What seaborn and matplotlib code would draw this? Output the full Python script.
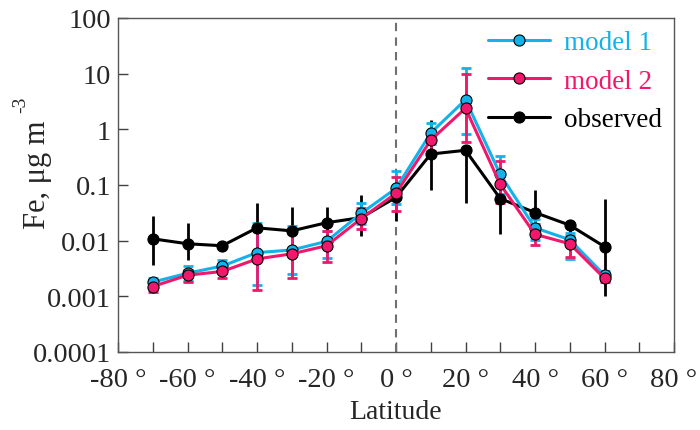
import numpy as np
import pandas as pd
import matplotlib
matplotlib.use("Agg")
import matplotlib.pyplot as plt
import seaborn as sns

# latitude of each band (degrees)
lat = [-70, -60, -50, -40, -30, -20, -10, 0, 10, 20, 30, 40, 50, 60]

# observed Fe, with lower / upper ends of the error bars
obs = [0.0108, 0.0088, 0.0081, 0.017, 0.015, 0.021, 0.026, 0.060, 0.36, 0.42, 0.057, 0.032, 0.019, 0.0078]
obs_lo = [0.0037, 0.0045, 0.0075, 0.0063, 0.0055, 0.011, 0.012, 0.023, 0.083, 0.048, 0.013, 0.017, 0.013, 0.001]
obs_hi = [0.028, 0.021, 0.0088, 0.047, 0.040, 0.040, 0.065, 0.10, 1.5, 0.5, 0.08, 0.08, 0.024, 0.057]

# model 1
m1 = [0.0018, 0.0026, 0.0035, 0.0061, 0.0068, 0.0097, 0.031, 0.087, 0.86, 3.4, 0.155, 0.017, 0.0104, 0.0024]
m1_lo = [0.0015, 0.0019, 0.0027, 0.0016, 0.0025, 0.0049, 0.020, 0.045, 0.55, 0.83, 0.07, 0.0104, 0.0047, 0.0020]
m1_hi = [0.0021, 0.0035, 0.0045, 0.021, 0.018, 0.015, 0.047, 0.18, 1.3, 12.9, 0.33, 0.025, 0.014, 0.0028]

# model 2
m2 = [0.0015, 0.0024, 0.0028, 0.0047, 0.0058, 0.0081, 0.025, 0.071, 0.64, 2.4, 0.103, 0.013, 0.0088, 0.0021]
m2_lo = [0.0012, 0.0018, 0.0021, 0.0013, 0.0021, 0.0042, 0.016, 0.034, 0.40, 0.59, 0.047, 0.0085, 0.005, 0.0018]
m2_hi = [0.0018, 0.0030, 0.0036, 0.017, 0.014, 0.015, 0.038, 0.14, 0.9, 9.9, 0.27, 0.02, 0.012, 0.0025]

c1 = "#12b2ea"
c2 = "#f0186c"
cobs = "black"

sns.set_style("ticks")
plt.rcParams['font.family'] = ['Liberation Serif', 'DejaVu Serif']

W, H = 700, 431
fig, ax = plt.subplots(figsize=(7, 4.31), dpi=100)
fig.subplots_adjust(left=118 / W, right=674 / W, bottom=1 - 353 / H, top=1 - 19 / H)

ax.axvline(0, color="#707070", lw=1.5, ls=(0, (4, 3)), zorder=1)

series = [
    ("observed", obs, obs_lo, obs_hi, cobs, 0),
    ("model 1", m1, m1_lo, m1_hi, c1, 3.5),
    ("model 2", m2, m2_lo, m2_hi, c2, 3.5),
]

for name, y, lo, hi, col, cap in series:
    y = np.array(y)
    yerr = [y - np.array(lo), np.array(hi) - y]
    ax.errorbar(lat, y, yerr=yerr, fmt="none", ecolor=col, elinewidth=2,
                capsize=cap, capthick=2, zorder=2)
    df = pd.DataFrame({"lat": lat, "val": y})
    sns.lineplot(data=df, x="lat", y="val", ax=ax, color=col, lw=2.2,
                 marker="o", markersize=8, markeredgecolor="black",
                 markeredgewidth=0.8, label=name, zorder=3)

ax.set_yscale("log")
ax.set_ylim(1e-4, 100)
ax.set_xlim(-80, 80)

yt = [1e-4, 1e-3, 1e-2, 1e-1, 1, 10, 100]
ax.set_yticks(yt)
ax.set_yticklabels(["0.0001", "0.001", "0.01", "0.1", "1", "10", "100"])
ax.yaxis.set_minor_locator(matplotlib.ticker.NullLocator())
ax.set_xticks(range(-80, 81, 20))
ax.set_xticklabels([f"{v} °" for v in range(-80, 81, 20)])
ax.set_xticks(range(-70, 80, 20), minor=True)

ax.tick_params(axis="both", which="both", direction="in", labelsize=20.5,
               color="#404040", width=1)
ax.tick_params(axis="both", which="major", length=7)
ax.tick_params(axis="y", which="major", pad=5)
ax.tick_params(axis="x", which="major", pad=11)
ax.tick_params(axis="x", which="minor", length=7)

for s in ax.spines.values():
    s.set_visible(True)
    s.set_color("#555555")
    s.set_linewidth(1)

ax.set_xlabel("Latitude", fontsize=20, labelpad=5)
ax.set_ylabel("")

# y label with a plain "-3" superscript
fig.text(37 / W, 1 - 175 / H, "Fe, μg m", rotation=90, ha="center", va="center",
         fontsize=22)
fig.text(21 / W, 1 - 105 / H, "-3", rotation=90, ha="center", va="center",
         fontsize=14)

handles, labels = ax.get_legend_handles_labels()
order = [labels.index("model 1"), labels.index("model 2"), labels.index("observed")]
leg = ax.legend([handles[i] for i in order], [labels[i] for i in order],
                loc="upper right", frameon=False, fontsize=19.5,
                handlelength=2.3, handletextpad=0.5, labelspacing=0.5,
                borderaxespad=0.05)
for txt, col in zip(leg.get_texts(), [c1, c2, cobs]):
    txt.set_color(col)

fig.savefig("out.png", dpi=100)
